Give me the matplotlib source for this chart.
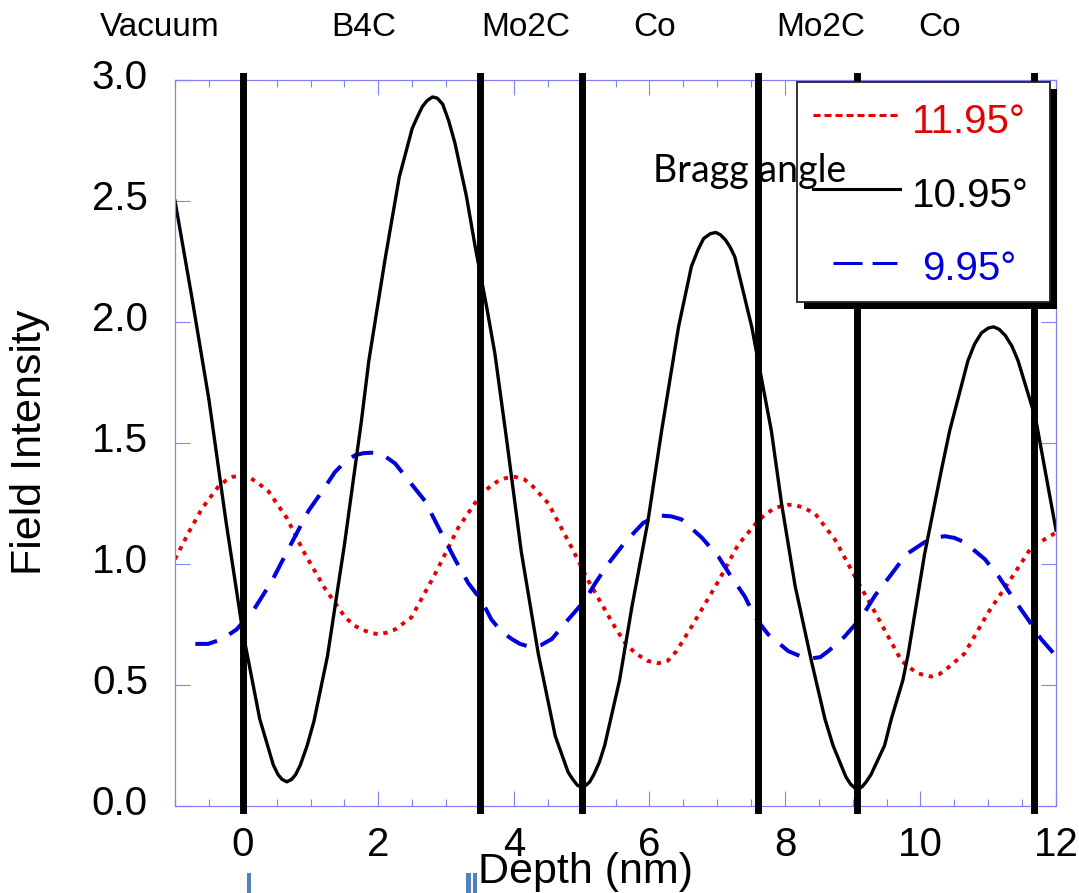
import matplotlib
matplotlib.use("Agg")
import matplotlib.pyplot as plt
import matplotlib.transforms as mtransforms
from matplotlib.patches import Rectangle
from matplotlib.ticker import MultipleLocator, FormatStrFormatter

plt.rcParams['font.family'] = ['Liberation Sans', 'DejaVu Sans']

# layer interfaces (nm) and the layer names written above the plot
boundaries = [0.0, 3.5, 5.0, 7.6, 9.07, 11.67]
layer_names = ["Vacuum", "B4C", "Mo2C", "Co", "Mo2C", "Co"]
layer_label_x = [-1.22, 1.78, 4.17, 6.08, 8.53, 10.28]

# 10.95 deg (Bragg angle)
depth_1095 = [-1.00, -0.75, -0.50, -0.25, 0.00, 0.25, 0.45, 0.52, 0.58, 0.65,
              0.72, 0.78, 0.85, 0.95, 1.05, 1.25, 1.50, 1.75, 1.86, 2.10,
              2.31, 2.50, 2.58, 2.65, 2.72, 2.80, 2.87, 2.95, 3.04, 3.13,
              3.30, 3.43, 3.60, 3.72, 3.90, 4.11, 4.36, 4.61, 4.80, 4.87,
              4.94, 5.00, 5.06, 5.12, 5.18, 5.26, 5.34, 5.56, 5.74, 5.98,
              6.18, 6.43, 6.62, 6.72, 6.80, 6.90, 6.98, 7.05, 7.12, 7.19,
              7.26, 7.51, 7.80, 7.95, 8.15, 8.39, 8.59, 8.71, 8.90, 8.97,
              9.03, 9.08, 9.14, 9.20, 9.27, 9.47, 9.57, 9.74, 9.82, 10.06,
              10.31, 10.43, 10.70, 10.80, 10.90, 11.00, 11.08, 11.16, 11.25, 11.35,
              11.44, 11.70, 11.85, 12.00]
field_1095 = [2.50, 2.10, 1.68, 1.18, 0.72, 0.36, 0.17, 0.13, 0.11, 0.10,
              0.11, 0.13, 0.17, 0.25, 0.35, 0.62, 1.08, 1.59, 1.84, 2.26,
              2.60, 2.80, 2.85, 2.89, 2.915, 2.93, 2.925, 2.90, 2.83, 2.74,
              2.52, 2.31, 2.06, 1.87, 1.50, 1.05, 0.63, 0.29, 0.14, 0.11,
              0.085, 0.08, 0.085, 0.10, 0.13, 0.18, 0.25, 0.52, 0.82, 1.18,
              1.55, 1.98, 2.23, 2.30, 2.345, 2.365, 2.37, 2.36, 2.34, 2.31,
              2.27, 1.98, 1.55, 1.25, 0.91, 0.60, 0.36, 0.25, 0.12, 0.09,
              0.075, 0.07, 0.08, 0.10, 0.13, 0.25, 0.36, 0.52, 0.63, 1.04,
              1.39, 1.55, 1.84, 1.91, 1.955, 1.975, 1.98, 1.97, 1.945, 1.90,
              1.84, 1.60, 1.37, 1.14]

# 11.95 deg
depth_1195 = [-1.00, -0.80, -0.60, -0.36, -0.25, -0.15, -0.07, 0.01, 0.10, 0.20,
              0.38, 0.65, 0.92, 1.21, 1.51, 1.65, 1.75, 1.88, 2.00, 2.12,
              2.25, 2.49, 2.84, 3.18, 3.52, 3.65, 3.75, 3.88, 4.02, 4.15,
              4.25, 4.51, 4.85, 5.10, 5.49, 5.65, 5.80, 5.97, 6.13, 6.27,
              6.40, 6.62, 7.02, 7.31, 7.61, 7.73, 7.85, 7.95, 8.05, 8.15,
              8.25, 8.44, 8.74, 9.03, 9.33, 9.72, 9.85, 9.95, 10.06, 10.16,
              10.28, 10.40, 10.65, 11.00, 11.29, 11.64, 12.00]
field_1195 = [1.02, 1.13, 1.23, 1.32, 1.345, 1.36, 1.364, 1.365, 1.357, 1.34,
              1.30, 1.19, 1.04, 0.90, 0.78, 0.745, 0.73, 0.716, 0.71, 0.716,
              0.73, 0.78, 0.96, 1.15, 1.29, 1.32, 1.34, 1.355, 1.36, 1.35,
              1.33, 1.25, 1.07, 0.93, 0.74, 0.67, 0.63, 0.60, 0.59, 0.60,
              0.64, 0.74, 0.93, 1.08, 1.18, 1.21, 1.23, 1.24, 1.245, 1.243,
              1.235, 1.21, 1.10, 0.95, 0.80, 0.60, 0.57, 0.55, 0.54, 0.535,
              0.545, 0.57, 0.63, 0.80, 0.92, 1.07, 1.13]

# 9.95 deg
depth_995 = [-0.70, -0.51, -0.30, -0.09, 0.16, 0.43, 0.67, 0.97, 1.17, 1.36,
             1.52, 1.66, 1.78, 1.90, 2.00, 2.10, 2.25, 2.49, 2.69, 2.89,
             3.13, 3.33, 3.52, 3.67, 3.82, 3.97, 4.09, 4.21, 4.30, 4.40,
             4.56, 4.80, 5.05, 5.20, 5.39, 5.64, 5.91, 6.05, 6.18, 6.32,
             6.47, 6.77, 7.02, 7.19, 7.41, 7.56, 7.75, 8.05, 8.22, 8.39,
             8.52, 8.64, 8.88, 9.13, 9.33, 9.55, 9.79, 10.06, 10.20, 10.36,
             10.50, 10.65, 10.95, 11.15, 11.39, 11.59, 11.78, 12.00]
field_995 = [0.67, 0.67, 0.69, 0.73, 0.81, 0.93, 1.06, 1.22, 1.30, 1.38,
             1.425, 1.45, 1.458, 1.46, 1.455, 1.445, 1.415, 1.33, 1.26, 1.15,
             1.02, 0.92, 0.85, 0.77, 0.72, 0.69, 0.67, 0.66, 0.658, 0.665,
             0.69, 0.77, 0.85, 0.92, 1.00, 1.09, 1.17, 1.19, 1.20, 1.197,
             1.185, 1.11, 1.03, 0.955, 0.865, 0.78, 0.71, 0.64, 0.62, 0.61,
             0.615, 0.64, 0.70, 0.78, 0.87, 0.95, 1.04, 1.09, 1.108, 1.115,
             1.108, 1.09, 1.02, 0.95, 0.85, 0.77, 0.69, 0.62]

legend_labels = ["11.95°", "10.95°", "9.95°"]

red = '#e60000'
blue = '#0000dd'
axis_blue = '#8080f8'

fig = plt.figure(figsize=(10.79, 8.93), dpi=100)
ax = fig.add_axes([0.1622, 0.0974, 0.8165, 0.813])

ax.plot(depth_1195, field_1195, color=red, lw=2.8, dashes=(1.1, 1.5), zorder=2)
ax.plot(depth_995, field_995, color=blue, lw=2.9, dashes=(5.5, 3.5), zorder=2)
ax.plot(depth_1095, field_1095, color='black', lw=2.4, zorder=2.5,
        solid_joinstyle='round')

for b in boundaries:
    ax.axvline(b, ymin=-0.006, ymax=1.006, color='black', lw=5, clip_on=False, zorder=3)

ax.set_xlim(-1, 12)
ax.set_ylim(0, 3)
ax.xaxis.set_major_locator(MultipleLocator(2))
ax.xaxis.set_minor_locator(MultipleLocator(0.5))
ax.yaxis.set_major_locator(MultipleLocator(0.5))
ax.yaxis.set_major_formatter(FormatStrFormatter('%.1f'))

for sp in ax.spines.values():
    sp.set_color(axis_blue)
    sp.set_linewidth(0.9)
ax.tick_params(which='both', direction='in', top=True, right=True,
               color=axis_blue, width=0.8)
ax.tick_params(axis='x', which='major', length=10.5, pad=14.5, labelsize=29)
ax.tick_params(axis='x', which='minor', length=5)
ax.tick_params(axis='y', which='major', length=11, pad=19.5, labelsize=29)

# y labels sit a little above their ticks in the original
shift_up = mtransforms.ScaledTranslation(0, 6 / 100, fig.dpi_scale_trans)
for lab in ax.get_yticklabels():
    lab.set_transform(lab.get_transform() + shift_up)

# layer names above the axes
blend = mtransforms.blended_transform_factory(ax.transData, fig.transFigure)
for name, x in zip(layer_names, layer_label_x):
    fig.text(x, 0.9597, name, transform=blend, ha='center', va='baseline', fontsize=24)

# legend box with black drop shadow
ax.add_patch(Rectangle((0.714, 0.684), 0.287, 0.303, transform=ax.transAxes,
                       facecolor='black', edgecolor='none', zorder=5, clip_on=False))
ax.add_patch(Rectangle((0.706, 0.694), 0.287, 0.303, transform=ax.transAxes,
                       facecolor='white', edgecolor='#222222', lw=1.3, zorder=6, clip_on=False))
ax.plot([0.724, 0.823], [0.9518, 0.9518], transform=ax.transAxes, color=red,
        lw=2.2, dashes=(2.3, 1.3), zorder=7, clip_on=False)
ax.plot([0.724, 0.823], [0.8499, 0.8499], transform=ax.transAxes, color='black',
        lw=2.2, zorder=7, clip_on=False)
ax.plot([0.747, 0.8195], [0.748, 0.748], transform=ax.transAxes, color=blue,
        lw=2.2, dashes=(9.5, 3.3), zorder=7, clip_on=False)
ax.text(0.8365, 0.927, legend_labels[0], transform=ax.transAxes, color=red,
        fontsize=29, va='baseline', zorder=7)
ax.text(0.8365, 0.8255, legend_labels[1], transform=ax.transAxes, color='black',
        fontsize=29, va='baseline', zorder=7)
ax.text(0.848, 0.7245, legend_labels[2], transform=ax.transAxes, color=blue,
        fontsize=29, va='baseline', zorder=7)

ax.text(0.5426, 0.8595, "Bragg angle", transform=ax.transAxes, family='Lato',
        fontsize=27, va='baseline', ha='left', zorder=8)

fig.text(0.028, 0.505, "Field Intensity", rotation=90, ha='center', va='center', fontsize=31)
fig.text(0.543, 1 - 883 / 893, "Depth (nm)", ha='center', va='baseline', fontsize=31)

# small blue marks left at the bottom edge of the slide
for x0, w in [(246.5, 4), (466, 5), (472.5, 4.5)]:
    fig.add_artist(Rectangle((x0 / 1079, 0), w / 1079, 20 / 893, transform=fig.transFigure,
                             facecolor='#4f81bd', edgecolor='none'))

fig.savefig("out.png", dpi=100)
